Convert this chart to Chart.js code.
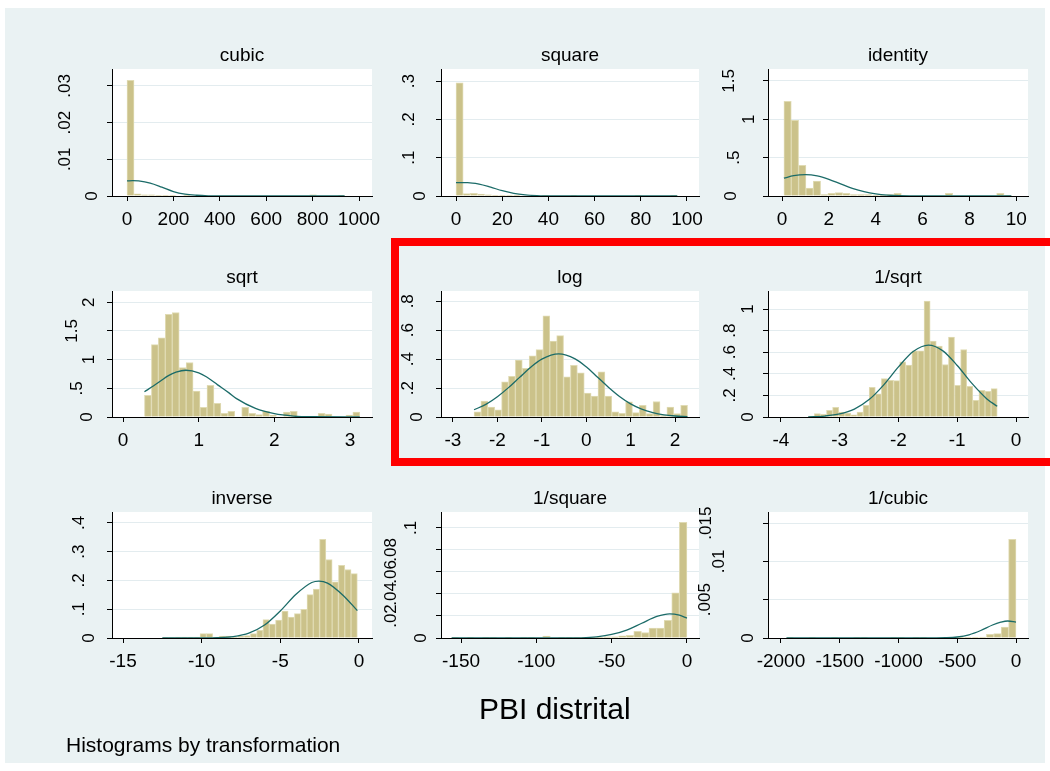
<!DOCTYPE html>
<html>
<head>
<meta charset="utf-8">
<script src="https://cdn.jsdelivr.net/npm/chart.js@4.4.1/dist/chart.umd.min.js"></script>
<style>
  body { margin: 0; background: #fff; }
  #wrap { position: relative; width: 1050px; height: 771px; overflow: hidden; font-family: "Liberation Sans", Arial, sans-serif; }
  #bg { position: absolute; left: 5px; top: 8px; width: 1040px; height: 755px; background: #eaf2f3; }
  #wrap canvas { position: absolute; left: 0; top: 0; }
  #box { position: absolute; left: 391px; top: 238px; width: 700px; height: 212px; border: 8px solid #ff0000; }
  #xtitle { position: absolute; left: 479px; top: 694px; font-size: 30px; line-height: 30px; color: #000; white-space: nowrap; }
  #note { position: absolute; left: 66px; top: 734px; font-size: 21px; line-height: 21px; color: #000; white-space: nowrap; }
</style>
</head>
<body>
<div id="wrap">
  <div id="bg"></div>
  <div id="xtitle">PBI distrital</div>
  <div id="note">Histograms by transformation</div>
</div>
<script>
// panel titles, in drawing order (row by row)
const titles = ['cubic', 'square', 'identity', 'sqrt', 'log', '1/sqrt', 'inverse', '1/square', '1/cubic'];

// histogram bins: first edge and width, then density of each of the 31 bins
const binStarts = [0.0005, 0.0064, 0.08, 0.283, -2.526, -3.536, -12.5, -156.25, -1953];
const binWidths = [30.27, 3.09, 0.3132, 0.0918, 0.1551, 0.10375, 0.3999, 5.04, 63.0];

const cubicHeights = [0.0315, 0.0006, 0.0003, 0.0003, 0.0002, 0.0001, 0.0001, 0, 0.0001, 0, 0, 0, 0, 0, 0, 0,
  0, 0, 0, 0, 0, 0, 0, 0, 0, 0, 0.0003, 0, 0, 0, 0.0001];
const squareHeights = [0.296, 0.006, 0.007, 0.005, 0.003, 0.002, 0.002, 0.001, 0.001, 0, 0, 0, 0.001, 0, 0, 0,
  0.002, 0, 0, 0, 0, 0, 0, 0, 0, 0.001, 0, 0, 0, 0, 0.001];
const identityHeights = [1.235, 0.987, 0.40, 0.104, 0.196, 0.02, 0.035, 0.043, 0.035, 0.017, 0.017, 0.017, 0.01,
  0.01, 0.02, 0.035, 0, 0, 0, 0, 0, 0, 0.035, 0, 0, 0, 0, 0, 0, 0.035, 0.003];
const sqrtHeights = [0.378, 1.26, 1.38, 1.79, 1.82, 0.86, 0.95, 0.45, 0.17, 0.55, 0.24, 0.064, 0.10, 0, 0.17,
  0.064, 0.04, 0.10, 0.03, 0, 0.087, 0.10, 0, 0, 0, 0.064, 0.052, 0, 0, 0.035, 0.087];
const logHeights = [0.035, 0.11, 0.068, 0.049, 0.243, 0.282, 0.394, 0.336, 0.422, 0.466, 0.70, 0.525, 0.562,
  0.278, 0.357, 0.305, 0.166, 0.145, 0.313, 0.145, 0.035, 0.026, 0.105, 0.03, 0.08, 0.023, 0.107, 0.01, 0.068,
  0.023, 0.08];
const invSqrtHeights = [0.009, 0.031, 0.025, 0.062, 0.09, 0.046, 0.037, 0.02, 0.046, 0.108, 0.275, 0.214, 0.356,
  0.34, 0.337, 0.51, 0.48, 0.613, 0.613, 1.074, 0.703, 0.656, 0.486, 0.74, 0.294, 0.625, 0.285, 0.155, 0.248,
  0.238, 0.263];
const inverseHeights = [0.002, 0.002, 0.003, 0.003, 0.003, 0.003, 0.015, 0.015, 0.003, 0.007, 0.007, 0.003, 0.007,
  0.008, 0.015, 0.027, 0.064, 0.048, 0.062, 0.094, 0.073, 0.085, 0.10, 0.151, 0.17, 0.343, 0.273, 0.195, 0.253,
  0.238, 0.224];
const invSquareHeights = [0.0006, 0, 0.0006, 0, 0.0006, 0.0006, 0, 0.0006, 0, 0.0006, 0.0006, 0, 0.0018, 0, 0.0006,
  0.0006, 0.0006, 0.0006, 0.0006, 0.0006, 0.001, 0.001, 0.002, 0.0024, 0.006, 0.005, 0.009, 0.009, 0.016, 0.041,
  0.105];
const invCubicHeights = [0.0001, 0, 0, 0.0001, 0, 0, 0.0001, 0, 0, 0.0001, 0.0001, 0, 0, 0, 0.0001, 0.0001, 0,
  0.0001, 0.0001, 0, 0, 0, 0, 0.0001, 0.0001, 0.0001, 0.00013, 0.00048, 0.00057, 0.00143, 0.01287];

// normal density overlay, read at a few points per panel
const cubicCurveX = [0, 25, 50, 100, 150, 200, 250, 300, 350, 400, 938];
const cubicCurveY = [0.0041, 0.0042, 0.0041, 0.0035, 0.0024, 0.0012, 0.0005, 0.0002, 0.00005, 0, 0];
const squareCurveX = [0, 5, 10, 15, 20, 25, 30, 35, 40, 95.8];
const squareCurveY = [0.035, 0.035, 0.031, 0.023, 0.014, 0.007, 0.003, 0.001, 0, 0];
const identityCurveX = [0.08, 0.5, 1, 1.5, 2, 2.5, 3, 3.5, 4, 4.5, 5, 6, 9.79];
const identityCurveY = [0.232, 0.265, 0.278, 0.262, 0.218, 0.158, 0.1, 0.056, 0.027, 0.011, 0.004, 0.0003, 0];
const sqrtCurveX = [0.283, 0.4, 0.5, 0.6, 0.7, 0.83, 1, 1.1, 1.25, 1.4, 1.5, 1.75, 2, 2.25, 2.5, 3.129];
const sqrtCurveY = [0.44, 0.54, 0.63, 0.72, 0.78, 0.814, 0.77, 0.70, 0.56, 0.42, 0.32, 0.15, 0.058, 0.017, 0.004, 0];
const logCurveX = [-2.526, -2.25, -2, -1.75, -1.5, -1.25, -1, -0.62, -0.25, 0, 0.25, 0.5, 0.75, 1, 1.25, 1.5,
  1.75, 2, 2.281];
const logCurveY = [0.05, 0.089, 0.14, 0.203, 0.274, 0.344, 0.40, 0.436, 0.402, 0.347, 0.277, 0.206, 0.142, 0.091,
  0.054, 0.03, 0.015, 0.007, 0.003];
const invSqrtCurveX = [-3.536, -3.25, -3, -2.75, -2.5, -2.25, -2, -1.75, -1.49, -1.25, -1, -0.75, -0.5, -0.32];
const invSqrtCurveY = [0.002, 0.009, 0.028, 0.073, 0.161, 0.298, 0.464, 0.606, 0.666, 0.615, 0.477, 0.311, 0.17,
  0.099];
const inverseCurveX = [-12.5, -11, -10, -9, -8, -7, -6, -5, -4, -3, -2.54, -2, -1, -0.102];
const inverseCurveY = [0, 0, 0.0002, 0.0011, 0.005, 0.017, 0.045, 0.094, 0.152, 0.193, 0.198, 0.191, 0.148, 0.095];
const invSquareCurveX = [-156.25, -100, -80, -70, -60, -50, -40, -30, -20, -11.5, -5, -0.01];
const invSquareCurveY = [0, 0, 0.00002, 0.0002, 0.0011, 0.0032, 0.0072, 0.0134, 0.0196, 0.022, 0.0207, 0.0181];
const invCubicCurveX = [-1953, -800, -700, -600, -500, -400, -300, -200, -130, -70, 0];
const invCubicCurveY = [0, 0, 0.000005, 0.00003, 0.00013, 0.00042, 0.00098, 0.0017, 0.00206, 0.00222, 0.00207];

// axis ticks and their labels
const xTicks = [
  [0, 200, 400, 600, 800, 1000], [0, 20, 40, 60, 80, 100], [0, 2, 4, 6, 8, 10],
  [0, 1, 2, 3], [-3, -2, -1, 0, 1, 2], [-4, -3, -2, -1, 0],
  [-15, -10, -5, 0], [-150, -100, -50, 0], [-2000, -1500, -1000, -500, 0]
];
const yTicks = [
  [0, 0.01, 0.02, 0.03], [0, 0.1, 0.2, 0.3], [0, 0.5, 1, 1.5],
  [0, 0.5, 1, 1.5, 2], [0, 0.2, 0.4, 0.6, 0.8], [0, 0.2, 0.4, 0.6, 0.8, 1],
  [0, 0.1, 0.2, 0.3, 0.4], [0, 0.02, 0.04, 0.06, 0.08, 0.1], [0, 0.005, 0.01, 0.015]
];
const yTickLabels = [
  ['0', '.01', '.02', '.03'], ['0', '.1', '.2', '.3'], ['0', '.5', '1', '1.5'],
  ['0', '.5', '1', '1.5', '2'], ['0', '.2', '.4', '.6', '.8'], ['0', '.2', '.4', '.6', '.8', '1'],
  ['0', '.1', '.2', '.3', '.4'], ['0', '.02', '.04', '.06', '.08', '.1'], ['0', '.005', '.01', '.015']
];

const heights = [cubicHeights, squareHeights, identityHeights, sqrtHeights, logHeights, invSqrtHeights,
  inverseHeights, invSquareHeights, invCubicHeights];
const curveXs = [cubicCurveX, squareCurveX, identityCurveX, sqrtCurveX, logCurveX, invSqrtCurveX,
  inverseCurveX, invSquareCurveX, invCubicCurveX];
const curveYs = [cubicCurveY, squareCurveY, identityCurveY, sqrtCurveY, logCurveY, invSqrtCurveY,
  inverseCurveY, invSquareCurveY, invCubicCurveY];

// page geometry of each plot region and axis ranges
const colLeft = [112, 441, 768];
const colRight = [372, 699, 1028];
const rowTop = [69, 291, 512];
const rowBottom = [196, 417, 638];
const ranges = [
  { xmin: -64.7, xmax: 1056, ymax: 0.0346 }, { xmin: -6.5, xmax: 105.2, ymax: 0.332 },
  { xmin: -0.6, xmax: 10.5, ymax: 1.656 }, { xmin: -0.146, xmax: 3.29, ymax: 2.195 },
  { xmin: -3.27, xmax: 2.54, ymax: 0.871 }, { xmin: -4.22, xmax: 0.204, ymax: 1.167 },
  { xmin: -15.7, xmax: 0.83, ymax: 0.438 }, { xmin: -163.3, xmax: 8.0, ymax: 0.1145 },
  { xmin: -2110, xmax: 102, ymax: 0.01645 }
];
// distance of each rotated y label from the axis line
const yLabelGaps = [
  [20, 47, 47, 47], [21, 32, 32, 32], [37, 34, 19, 39],
  [25, 35, 23, 40, 23], [24, 33, 33, 33, 33], [20, 38, 38, 38, 38, 20],
  [23, 33, 33, 33, 33], [20, 50, 50, 50, 50, 30], [20, 63, 49, 62]
];

const W = 1050, H = 771;
const FONT = '"Liberation Sans", Arial, sans-serif';
const BAR_FILL = 'rgb(203,194,138)';
const BAR_LINE = 'rgb(224,219,180)';
const CURVE = '#1b6b68';
const GRID = '#e3ecef';

const panelPlugin = {
  id: 'panelDecor',
  beforeDraw(chart) {
    const a = chart.chartArea, ctx = chart.ctx;
    ctx.save();
    ctx.fillStyle = '#fff';
    ctx.fillRect(a.left, a.top, a.right - a.left, a.bottom - a.top);
    ctx.restore();
  },
  afterDraw(chart) {
    const o = chart.options.plugins.panelDecor;
    const a = chart.chartArea, ctx = chart.ctx, ys = chart.scales.y;
    ctx.save();
    ctx.fillStyle = '#000';
    ctx.font = '19px ' + FONT;
    ctx.textAlign = 'center';
    ctx.textBaseline = 'middle';
    ctx.fillText(o.title, (a.left + a.right) / 2, a.top - 13);

    ctx.font = '17px ' + FONT;
    o.yTicks.forEach((v, i) => {
      ctx.save();
      ctx.translate(a.left - o.gaps[i], ys.getPixelForValue(v));
      ctx.rotate(-Math.PI / 2);
      ctx.fillText(o.yLabels[i], 0, 0);
      ctx.restore();
    });
    ctx.restore();
  }
};

const wrap = document.getElementById('wrap');

titles.forEach((title, k) => {
  const row = Math.floor(k / 3), col = k % 3;
  const r = ranges[k];
  const canvas = document.createElement('canvas');
  canvas.width = W;
  canvas.height = H;
  wrap.insertBefore(canvas, document.getElementById('xtitle'));

  const bars = heights[k].map((h, i) => ({ x: binStarts[k] + (i + 0.5) * binWidths[k], y: h }));
  const curve = curveXs[k].map((x, i) => ({ x: x, y: curveYs[k][i] }));

  new Chart(canvas, {
    type: 'bar',
    data: {
      datasets: [
        {
          type: 'line',
          data: curve,
          borderColor: CURVE,
          borderWidth: 1.3,
          pointRadius: 0,
          cubicInterpolationMode: 'monotone',
          order: 0
        },
        {
          type: 'bar',
          data: bars,
          backgroundColor: BAR_FILL,
          borderColor: BAR_LINE,
          borderWidth: 1,
          barPercentage: 1,
          categoryPercentage: 1,
          order: 1
        }
      ]
    },
    options: {
      responsive: false,
      animation: false,
      devicePixelRatio: 1,
      events: [],
      layout: {
        padding: {
          left: colLeft[col] - 12,
          right: W - colRight[col],
          top: rowTop[row],
          bottom: H - rowBottom[row] - 40
        }
      },
      plugins: {
        legend: { display: false },
        tooltip: { enabled: false },
        panelDecor: { title: title, yTicks: yTicks[k], yLabels: yTickLabels[k], gaps: yLabelGaps[k] }
      },
      scales: {
        x: {
          type: 'linear',
          min: r.xmin,
          max: r.xmax,
          offset: false,
          afterBuildTicks: s => { s.ticks = xTicks[k].map(v => ({ value: v })); },
          afterFit: s => { s.height = 40; },
          grid: { drawOnChartArea: false, tickLength: 5, tickColor: '#000', offset: false },
          border: { color: '#000', width: 1 },
          ticks: {
            color: '#000',
            font: { family: FONT, size: 19 },
            padding: 7,
            autoSkip: false,
            maxRotation: 0,
            callback: (v, i) => String(xTicks[k][i])
          }
        },
        y: {
          type: 'linear',
          min: 0,
          max: r.ymax,
          afterBuildTicks: s => { s.ticks = yTicks[k].map(v => ({ value: v })); },
          afterFit: s => { s.width = 12; },
          grid: { color: GRID, tickLength: 5, tickColor: '#000' },
          border: { color: '#000', width: 1 },
          ticks: { display: false }
        }
      }
    },
    plugins: [panelPlugin]
  });
});
</script>
<div style="display:none"></div>
<script>
// annotation frame drawn above the charts
const box = document.createElement('div');
box.id = 'box';
document.getElementById('wrap').appendChild(box);
</script>
</body>
</html>
